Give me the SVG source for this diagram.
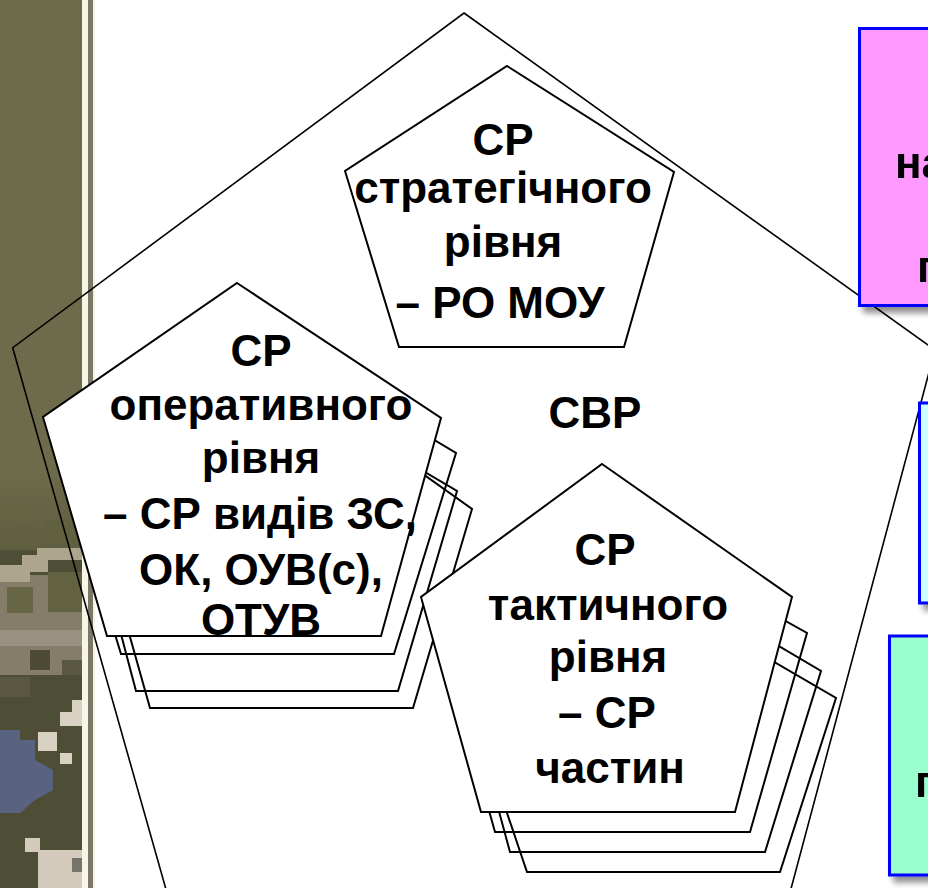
<svg xmlns="http://www.w3.org/2000/svg" width="928" height="888" viewBox="0 0 928 888">
<defs>
<style>
.pg{fill:#fff;stroke:#000;stroke-width:2;stroke-linejoin:miter}
.cp{fill:none;stroke:#000;stroke-width:2}
.big{fill:none;stroke:#000;stroke-width:1.6}
.t{font-family:"Liberation Sans",Arial,sans-serif;font-weight:bold;font-size:44px;text-anchor:middle;fill:#000}
.ts{font-family:"Liberation Sans",Arial,sans-serif;font-weight:bold;font-size:44px;text-anchor:start;fill:#000}
.bx{stroke:#0000ff;stroke-width:3}
</style>
<linearGradient id="fade" x1="0" y1="0" x2="0" y2="1">
<stop offset="0" stop-color="#6e6a4c"/>
<stop offset="1" stop-color="#5f5e40"/>
</linearGradient>
<filter id="sh" x="-20%" y="-20%" width="150%" height="150%">
<feGaussianBlur in="SourceAlpha" stdDeviation="3"/>
<feOffset dx="5" dy="6" result="b"/>
<feComponentTransfer><feFuncA type="linear" slope="0.45"/></feComponentTransfer>
<feMerge><feMergeNode/><feMergeNode in="SourceGraphic"/></feMerge>
</filter>
</defs>

<rect width="928" height="888" fill="#fff"/>

<g id="camo">
<rect x="0" y="0" width="82" height="888" fill="#6e6a4c"/>
<rect x="0" y="470" width="82" height="80" fill="url(#fade)"/>
<rect x="10" y="505" width="22" height="18" fill="#646443"/>
<rect x="45" y="520" width="25" height="20" fill="#62613f"/>
<rect x="0" y="550" width="82" height="338" fill="#4e4d35"/>
<rect x="0" y="575" width="82" height="100" fill="#857c69"/>
<polygon points="0,565 22,565 22,555 37,555 37,548 82,548 82,560 48,560 48,572 30,572 30,582 0,582" fill="#ada58e"/>
<rect x="7" y="587" width="26" height="26" fill="#666545"/>
<rect x="48" y="572" width="34" height="40" fill="#626242"/>
<rect x="0" y="630" width="82" height="16" fill="#9a9281"/>
<rect x="30" y="650" width="20" height="20" fill="#4c4a34"/>
<rect x="62" y="660" width="20" height="15" fill="#5a5840"/>
<rect x="0" y="677" width="30" height="20" fill="#5a5840"/>
<rect x="72" y="700" width="10" height="12" fill="#d9d1c2"/>
<rect x="60" y="712" width="22" height="14" fill="#d9d1c2"/>
<rect x="38" y="732" width="19" height="19" fill="#d9d1c2"/>
<rect x="60" y="753" width="12" height="11" fill="#d9d1c2"/>
<polygon points="0,730 20,730 20,740 35,740 35,760 53,770 53,790 35,800 20,813 0,813" fill="#5a6282"/>
<rect x="25" y="838" width="15" height="14" fill="#d3cabb"/>
<rect x="38" y="850" width="44" height="38" fill="#d3cabb"/>
<rect x="72" y="858" width="10" height="14" fill="#77736a"/>
<rect x="82" y="0" width="6" height="888" fill="#f7f5e6"/>
<rect x="88" y="0" width="5" height="888" fill="#7b7766"/>
<rect x="93" y="0" width="2" height="888" fill="#f4f2e4"/>
</g>

<g id="svr">
<polygon class="big" points="464,13 935,350 788,900 169,900 12.7,347.7"/>
<text class="t" x="595" y="428">СВР</text>
</g>

<g id="box-pink" filter="url(#sh)">
<rect class="bx" x="859.5" y="28.5" width="90" height="277" fill="#ff99ff"/>
<text class="ts" x="895" y="178">на</text>
<text class="ts" x="917" y="282">п</text>
</g>
<g id="box-blue" filter="url(#sh)">
<rect class="bx" x="919.5" y="403" width="40" height="200" fill="#ccffff"/>
</g>
<g id="box-green" filter="url(#sh)">
<rect class="bx" x="889.5" y="636" width="60" height="239" fill="#99ffcc"/>
<text class="ts" x="915" y="797">п</text>
</g>

<g id="strategic">
<polygon class="pg" points="507,66 674,172 624,347 399,347 345,171"/>
<text class="t" x="503" y="155">СР</text>
<text class="t" x="503" y="203">стратегічного</text>
<text class="t" x="503" y="257">рівня</text>
<text class="t" x="500" y="318">– РО МОУ</text>
</g>

<g id="operational">
<polygon class="cp" points="260,358 472,509 413,708 150,708 83,470"/>
<polygon class="cp" points="255,372 457,491 398,691 136,691 75,460"/>
<polygon class="cp" points="252,331 456,453 394,654 121,654 58,447"/>
<polygon class="pg" points="237,283 441,418 381,636 107,636 43,417"/>
<text class="t" x="261" y="366">СР</text>
<text class="t" x="261" y="420">оперативного</text>
<text class="t" x="261" y="473">рівня</text>
<text class="t" x="260" y="529">– СР видів ЗС,</text>
<text class="t" x="261" y="585">ОК, ОУВ(с),</text>
<text class="t" x="261" y="635">ОТУВ</text>
</g>

<g id="tactical">
<polygon class="cp" points="625,575 836,698 780,872 527,872 462,680"/>
<polygon class="cp" points="620,552 821,671 765,852 510,852 458,660"/>
<polygon class="cp" points="615,526 807,633 750,832 495,832 439,632"/>
<polygon class="pg" points="602,464 792,597 735,812 481,812 421,597"/>
<text class="t" x="605" y="565">СР</text>
<text class="t" x="608" y="620">тактичного</text>
<text class="t" x="608" y="672">рівня</text>
<text class="t" x="607" y="728">– СР</text>
<text class="t" x="610" y="783">частин</text>
</g>
</svg>
